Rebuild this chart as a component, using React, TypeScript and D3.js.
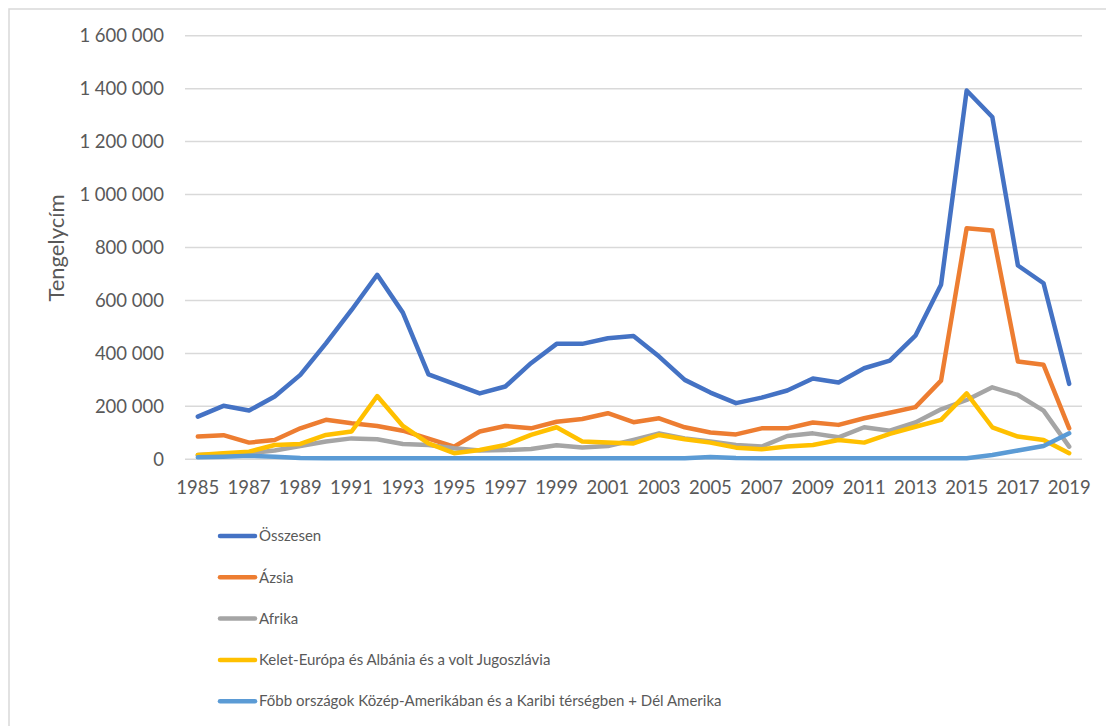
import React from "react";
import * as d3 from "d3";

const years = d3.range(1985, 2020).map(String);

const osszesen = [161000, 202000, 184000, 237000, 319000, 438000, 564000, 697000, 554000, 321000, 285000, 249000, 275000, 363000, 436000, 436000, 457000, 466000, 388000, 300000, 252000, 212000, 233000, 260000, 305000, 290000, 344000, 373000, 467000, 659000, 1393000, 1293000, 732000, 665000, 285000];
const azsia = [86000, 91000, 63000, 73000, 117000, 149000, 136000, 126000, 108000, 78000, 48000, 105000, 126000, 117000, 142000, 152000, 174000, 140000, 155000, 121000, 101000, 94000, 117000, 117000, 139000, 130000, 155000, 176000, 197000, 297000, 873000, 864000, 369000, 357000, 117000];
const afrika = [16000, 20000, 23000, 33000, 50000, 67000, 79000, 76000, 58000, 54000, 42000, 33000, 35000, 39000, 53000, 45000, 50000, 73000, 98000, 79000, 67000, 54000, 48000, 88000, 98000, 83000, 121000, 108000, 139000, 189000, 224000, 272000, 243000, 184000, 48000];
const keletEuropa = [16000, 23000, 29000, 54000, 58000, 92000, 105000, 239000, 126000, 60000, 23000, 35000, 54000, 92000, 121000, 67000, 63000, 60000, 92000, 76000, 63000, 44000, 38000, 48000, 54000, 73000, 63000, 96000, 123000, 149000, 249000, 121000, 86000, 73000, 23000];
const amerika = [8000, 10000, 13000, 10000, 5000, 4000, 4000, 4000, 4000, 4000, 4000, 4000, 4000, 4000, 4000, 4000, 4000, 4000, 4000, 4000, 9000, 5000, 4000, 4000, 4000, 4000, 4000, 4000, 4000, 4000, 4000, 16000, 33000, 50000, 98000];

const seriesNames = [
  "Összesen",
  "Ázsia",
  "Afrika",
  "Kelet-Európa és Albánia és a volt Jugoszlávia",
  "Főbb országok Közép-Amerikában és a Karibi térségben + Dél Amerika",
];
const seriesValues = [osszesen, azsia, afrika, keletEuropa, amerika];
const colors = ["#4472C4", "#ED7D31", "#A5A5A5", "#FFC000", "#5B9BD5"];
const yTicks = [0, 200000, 400000, 600000, 800000, 1000000, 1200000, 1400000, 1600000];
const axisTitle = "Tengelycím";

const W = 1106;
const H = 726;
const FONT = "Lato, 'Open Sans', sans-serif";
const TEXT = "#595959";

const locale = d3.formatLocale({ decimal: ",", thousands: "\u00a0", grouping: [3], currency: ["", ""] });
const fmt = locale.format(",d");

export default function App() {
  const x = d3.scalePoint<string>().domain(years).range([185, 1082]).padding(0.5);
  const y = d3.scaleLinear().domain([0, 1600000]).range([459.3, 35.7]);
  const line = d3
    .line<number>()
    .x((_, i) => x(years[i]) as number)
    .y((d) => y(d));

  const legendX = 220;
  const legendY0 = 536;
  const legendStep = 41.3;

  return (
    <svg width={W} height={H} style={{ position: "absolute", left: 0, top: 0, background: "#fff" }}>
      <rect x={0} y={0} width={W} height={H} fill="#fff" />
      <rect x={9} y={9} width={W + 20} height={H + 20} fill="none" stroke="#D9D9D9" strokeWidth={1.5} />
      {yTicks.map((t) => (
        <g key={t}>
          <line x1={185} x2={1082} y1={y(t)} y2={y(t)} stroke="#D9D9D9" strokeWidth={1.5} />
          <text x={164} y={y(t)} dy="0.35em" textAnchor="end" fontFamily={FONT} fontSize={18.5} fill={TEXT}>
            {fmt(t)}
          </text>
        </g>
      ))}
      {years.map((yr, i) =>
        i % 2 === 0 ? (
          <text key={yr} x={x(yr)} y={488} dy="0.35em" textAnchor="middle" fontFamily={FONT} fontSize={18.5} fill={TEXT}>
            {yr}
          </text>
        ) : null
      )}
      <text
        transform="translate(56,248) rotate(-90)"
        textAnchor="middle"
        dy="0.35em"
        fontFamily={FONT}
        fontSize={22}
        fill={TEXT}
      >
        {axisTitle}
      </text>
      {seriesValues.map((vals, si) => (
        <path
          key={si}
          d={line(vals) || ""}
          fill="none"
          stroke={colors[si]}
          strokeWidth={4.5}
          strokeLinejoin="round"
          strokeLinecap="round"
        />
      ))}
      {seriesNames.map((name, si) => {
        const ly = legendY0 + si * legendStep;
        return (
          <g key={name}>
            <line x1={legendX} x2={legendX + 35} y1={ly} y2={ly} stroke={colors[si]} strokeWidth={4.5} strokeLinecap="round" />
            <text x={legendX + 39} y={ly} dy="0.35em" fontFamily={FONT} fontSize={15} fill={TEXT}>
              {name}
            </text>
          </g>
        );
      })}
    </svg>
  );
}
